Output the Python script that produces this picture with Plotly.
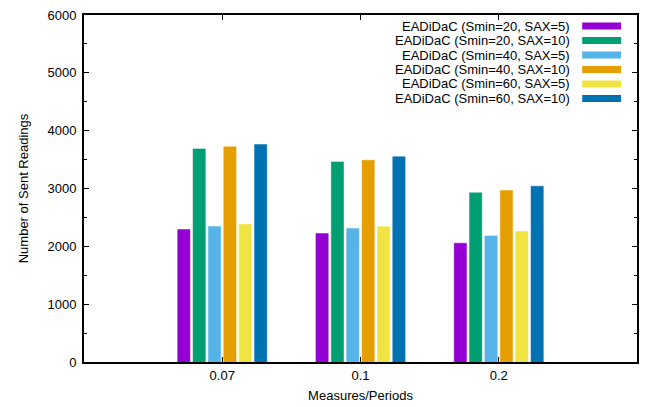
import plotly.graph_objects as go

# Measurement periods on the x axis
periods = ["0.07", "0.1", "0.2"]

# Sent readings for each EADiDaC configuration
smin20_sax5 = [2290, 2220, 2055]
smin20_sax10 = [3685, 3460, 2925]
smin40_sax5 = [2345, 2310, 2180]
smin40_sax10 = [3720, 3490, 2965]
smin60_sax5 = [2380, 2340, 2255]
smin60_sax10 = [3760, 3550, 3040]

series_names = [
    "EADiDaC (Smin=20, SAX=5)",
    "EADiDaC (Smin=20, SAX=10)",
    "EADiDaC (Smin=40, SAX=5)",
    "EADiDaC (Smin=40, SAX=10)",
    "EADiDaC (Smin=60, SAX=5)",
    "EADiDaC (Smin=60, SAX=10)",
]
series_values = [smin20_sax5, smin20_sax10, smin40_sax5,
                 smin40_sax10, smin60_sax5, smin60_sax10]
colors = ["#9400d3", "#009e73", "#56b4e9", "#e69f00", "#f0e442", "#0072b2"]

y_ticks = [0, 1000, 2000, 3000, 4000, 5000, 6000]

FONT = "Liberation Sans, Arial, sans-serif"

fig = go.Figure()
for name, vals, col in zip(series_names, series_values, colors):
    fig.add_trace(go.Bar(
        x=periods, y=vals, name=name,
        marker=dict(color=col, line=dict(color=col, width=0.5)),
        showlegend=False,
    ))

# Key: right-aligned labels with colour swatches to their right
W, H = 645, 407
L, R, T, B = 84, 6, 15, 45
pw, ph = W - L - R, H - T - B
row_y = [26, 40.5, 55, 69.5, 84, 98.5]
for name, col, yp in zip(series_names, colors, row_y):
    yf = 1 - (yp - T) / ph
    fig.add_annotation(
        x=(573 - L) / pw, y=yf, xref="paper", yref="paper",
        text=name, showarrow=False, xanchor="right", yanchor="middle",
        borderpad=0,
        font=dict(family=FONT, size=13, color="#000000"),
    )
    fig.add_shape(
        type="rect", xref="paper", yref="paper",
        x0=(584 - L) / pw, x1=(623 - L) / pw,
        y0=1 - (yp + 3.5 - T) / ph, y1=1 - (yp - 3.5 - T) / ph,
        fillcolor=col, line=dict(width=0),
    )

fig.update_layout(
    width=W, height=H,
    margin=dict(l=L, r=R, t=T, b=B),
    paper_bgcolor="white", plot_bgcolor="white",
    barmode="group", bargap=0.333, bargroupgap=0.2,
    font=dict(family=FONT, size=13, color="#000000"),
    xaxis=dict(
        type="category", range=[-1, 3],
        showline=True, linecolor="black", linewidth=2, mirror="ticks",
        ticks="inside", ticklen=5, tickcolor="black",
        showgrid=False, zeroline=False, ticklabelstandoff=0,
        title=dict(text="Measures/Periods", standoff=9,
                   font=dict(family=FONT, size=13)),
        tickfont=dict(family=FONT, size=13),
    ),
    yaxis=dict(
        range=[0, 6000], tickvals=y_ticks,
        showline=True, linecolor="black", linewidth=2, mirror="ticks",
        ticks="inside", ticklen=5, tickcolor="black",
        minor=dict(ticks="inside", ticklen=3, dtick=500, tickcolor="black"),
        showgrid=False, zeroline=False, ticklabelstandoff=3,
        title=dict(text="Number of Sent Readings", standoff=16,
                   font=dict(family=FONT, size=13)),
        tickfont=dict(family=FONT, size=13),
    ),
)

fig.write_html("out.html")
